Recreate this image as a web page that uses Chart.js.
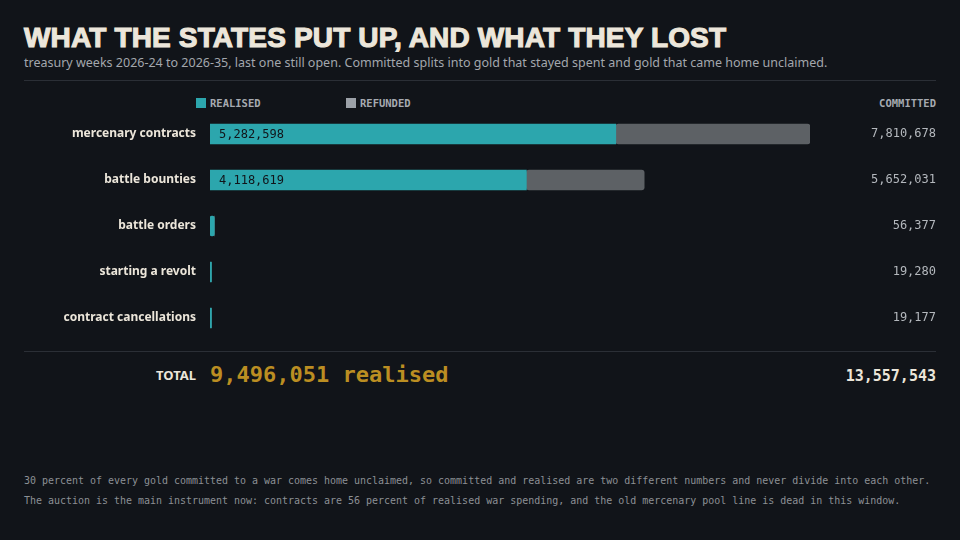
<!DOCTYPE html>
<html>
<head>
<meta charset="utf-8">
<script src="https://cdn.jsdelivr.net/npm/chart.js@4.4.1/dist/chart.umd.min.js"></script>
<style>
  html, body { margin: 0; padding: 0; background: #111419; }
  body { width: 960px; height: 540px; position: relative; overflow: hidden; }
  .abs { position: absolute; white-space: nowrap; }
  #title { left: 24px; top: 21.5px; font-family: "Liberation Sans", sans-serif; font-weight: 700; font-size: 28px;
           color: #ece6da; -webkit-text-stroke: 1.1px #ece6da; letter-spacing: 0.15px; }
  #subtitle { left: 24px; top: 54px; font-family: "Noto Sans", sans-serif; font-size: 12.5px; color: #a3a7ad; }
  .rule { position: absolute; left: 24px; width: 912px; height: 1px; background: #2b2f36; }
  .legend { top: 97px; font-family: "DejaVu Sans Mono", monospace; font-size: 10.5px; font-weight: 700; color: #a6aab0; }
  .legend i { display: inline-block; width: 10px; height: 10px; margin-right: 4px; vertical-align: -1px; }
  #committedHead { right: 24px; }
  #chartBox { position: absolute; left: 24px; top: 111px; }
  #totalLabel { right: 764px; top: 366px; font-family: "Noto Sans", sans-serif; font-weight: 700; font-size: 13px; color: #ece6da; }
  #totalRealised { left: 210px; top: 362px; font-family: "DejaVu Sans Mono", monospace; font-weight: 700; font-size: 22px; color: #bb8e22; }
  #totalCommitted { right: 24px; top: 367px; font-family: "DejaVu Sans Mono", monospace; font-weight: 700; font-size: 15px; color: #ece6da; }
  .note { left: 24px; font-family: "DejaVu Sans Mono", monospace; font-size: 9.97px; color: #8c9095; }
</style>
</head>
<body>
<div id="title" class="abs">WHAT THE STATES PUT UP, AND WHAT THEY LOST</div>
<div id="subtitle" class="abs">treasury weeks 2026-24 to 2026-35, last one still open. Committed splits into gold that stayed spent and gold that came home unclaimed.</div>
<div class="rule" style="top:80px"></div>
<div class="abs legend" style="left:196px"><i style="background:#2ca6ad"></i>REALISED</div>
<div class="abs legend" style="left:346px"><i style="background:#9ca1a8"></i>REFUNDED</div>
<div id="committedHead" class="abs legend">COMMITTED</div>
<div id="chartBox"><canvas id="chart" width="912" height="230"></canvas></div>
<div class="rule" style="top:351px"></div>
<div id="totalLabel" class="abs">TOTAL</div>
<div id="totalRealised" class="abs"></div>
<div id="totalCommitted" class="abs"></div>
<div class="abs note" style="top:475px">30 percent of every gold committed to a war comes home unclaimed, so committed and realised are two different numbers and never divide into each other.</div>
<div class="abs note" style="top:495px">The auction is the main instrument now: contracts are 56 percent of realised war spending, and the old mercenary pool line is dead in this window.</div>

<script>
const categories = ['mercenary contracts', 'battle bounties', 'battle orders', 'starting a revolt', 'contract cancellations'];
const realised = [5282598, 4118619, 56377, 19280, 19177];
const committed = [7810678, 5652031, 56377, 19280, 19177];
const refunded = committed.map((c, i) => c - realised[i]);

const fmt = n => n.toLocaleString('en-US');
const sum = arr => arr.reduce((a, b) => a + b, 0);

document.getElementById('totalRealised').textContent = fmt(sum(realised)) + ' realised';
document.getElementById('totalCommitted').textContent = fmt(sum(committed));

// value printed inside the wide realised bars
const insideLabels = {
    id: 'insideLabels',
    afterDatasetsDraw(chart) {
        const ctx = chart.ctx;
        const meta = chart.getDatasetMeta(0);
        ctx.save();
        ctx.font = '12px "DejaVu Sans Mono", monospace';
        ctx.fillStyle = '#111419';
        ctx.textBaseline = 'middle';
        meta.data.forEach((bar, i) => {
            if (bar.x - bar.base > 90) {
                ctx.fillText(fmt(realised[i]), bar.base + 9, bar.y + 1);
            }
        });
        ctx.restore();
    }
};

// fixed side columns, no extra top/bottom padding from the tick labels
function fixWidth(w) {
    return scale => {
        scale.width = w;
        scale.paddingTop = 0;
        scale.paddingBottom = 0;
    };
}

new Chart(document.getElementById('chart').getContext('2d'), {
    type: 'bar',
    data: {
        labels: categories,
        datasets: [{
            label: 'Realised',
            data: realised,
            backgroundColor: '#2ca6ad',
            borderRadius: 3,
            borderSkipped: false,
            barThickness: 20
        }, {
            label: 'Refunded',
            data: refunded,
            backgroundColor: '#5d6165',
            borderRadius: 3,
            borderSkipped: false,
            barThickness: 20
        }]
    },
    options: {
        indexAxis: 'y',
        responsive: false,
        animation: false,
        layout: { padding: 0, autoPadding: false },
        plugins: {
            legend: { display: false },
            tooltip: { enabled: false }
        },
        scales: {
            x: {
                stacked: true,
                min: 0,
                max: Math.max(...committed),
                display: false
            },
            y: {
                stacked: true,
                grid: { display: false, drawTicks: false },
                border: { display: false },
                ticks: {
                    color: '#ece6da',
                    padding: 14,
                    font: { family: '"Noto Sans", sans-serif', weight: 'bold', size: 12 }
                },
                afterFit: fixWidth(186)
            },
            yRight: {
                type: 'category',
                position: 'right',
                labels: committed.map(fmt),
                grid: { display: false, drawTicks: false },
                border: { display: false },
                ticks: {
                    color: '#b4b8bd',
                    crossAlign: 'far',
                    padding: 0,
                    font: { family: '"DejaVu Sans Mono", monospace', size: 12 }
                },
                afterFit: fixWidth(126)
            }
        }
    },
    plugins: [insideLabels]
});
</script>
</body>
</html>
